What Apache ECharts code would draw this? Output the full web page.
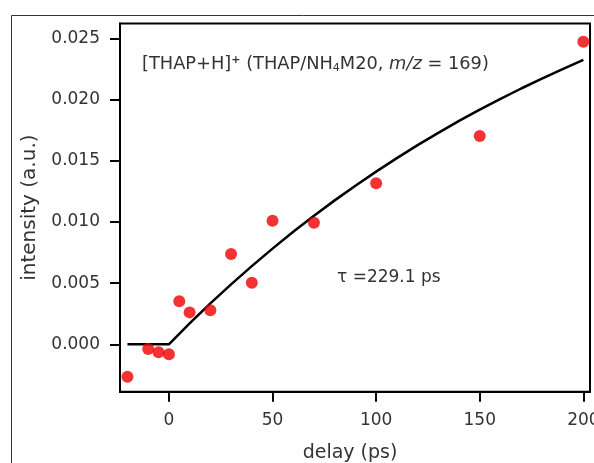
<!DOCTYPE html>
<html>
<head>
<meta charset="utf-8">
<script src="https://cdn.jsdelivr.net/npm/echarts@6/dist/echarts.min.js"></script>
<style>
html,body{margin:0;padding:0;background:#fff;}
#main{width:594px;height:463px;}
</style>
</head>
<body>
<div id="main"></div>
<script>
// measured data (delay in ps, intensity in a.u.)
var delays = [-20, -10, -5, 0, 5, 10, 20, 30, 40, 50, 70, 100, 150, 200];
var intensities = [-0.00265, -0.00038, -0.00065, -0.00082, 0.00351, 0.00261, 0.00278, 0.00738, 0.00503, 0.0101, 0.00994, 0.01315, 0.01702, 0.02472];
// fitted curve
var fitDelays = [-20, 0, 10, 20, 30, 40, 50, 60, 70, 80, 90, 100, 110, 120, 130, 140, 150, 160, 170, 180, 190, 200];
var fitValues = [0, 0, 0.00171, 0.00334, 0.00490, 0.00639, 0.00782, 0.00919, 0.01051, 0.01176, 0.01296, 0.01411, 0.01521, 0.01627, 0.01728, 0.01825, 0.01917, 0.02005, 0.02090, 0.02171, 0.02249, 0.02323];
// tick labels
var xTicks = [0, 50, 100, 150, 200];
var yTicks = [0, 0.005, 0.010, 0.015, 0.020, 0.025];

var FONT = 'DejaVu Sans';
var TXT = '#333';

var scatterData = delays.map(function (d, i) { return [d, intensities[i]]; });
var fitData = fitDelays.map(function (d, i) { return [d, fitValues[i]]; });

var chart = echarts.init(document.getElementById('main'), null, {renderer: 'canvas'});
chart.setOption({
  backgroundColor: '#fff',
  animation: false,
  textStyle: {fontFamily: FONT},
  title: {
    left: 137, top: 50,
    text: '{a|[THAP+H]}{sup|+}{a| (THAP/NH}{sub|4}{a|M20, }{i|m/z}{a| = 169)}',
    textStyle: {
      fontFamily: FONT, fontWeight: 'normal',
      rich: {
        a: {fontFamily: FONT, fontSize: 17.8, color: TXT, fontWeight: 'normal'},
        sup: {fontFamily: FONT, fontSize: 11, color: TXT, fontWeight: 'bold', verticalAlign: 'top', padding: [0, 0, 8, 0]},
        sub: {fontFamily: FONT, fontSize: 11, color: TXT, fontWeight: 'normal', verticalAlign: 'bottom', padding: [8, 0, 0, 0]},
        i: {fontFamily: FONT, fontSize: 17.8, color: TXT, fontWeight: 'normal', fontStyle: 'italic'}
      }
    }
  },
  grid: {
    left: 120, right: 4, top: 23.5, bottom: 71.3,
    show: true, borderColor: '#000', borderWidth: 2, backgroundColor: 'transparent',
    containLabel: false, outerBoundsMode: 'none'
  },
  xAxis: {
    type: 'value', min: -23.6, max: 203.2,
    name: 'delay (ps)', nameLocation: 'middle', nameGap: 52,
    nameTextStyle: {fontFamily: FONT, fontSize: 19, color: TXT, padding: [0, 10, 0, 0]},
    axisLine: {show: true, onZero: false, lineStyle: {color: '#000', width: 2}},
    axisTick: {show: true, inside: false, length: 10, lineStyle: {color: '#000', width: 2}, customValues: xTicks},
    axisLabel: {show: true, margin: 20, fontFamily: FONT, fontSize: 17, color: TXT, customValues: xTicks},
    splitLine: {show: false}
  },
  yAxis: {
    type: 'value', min: -0.00387, max: 0.02621,
    name: 'intensity (a.u.)', nameLocation: 'middle', nameGap: 80, nameRotate: 90,
    nameTextStyle: {fontFamily: FONT, fontSize: 20, color: TXT, padding: [0, 0, 0, 0]},
    axisLine: {show: true, onZero: false, lineStyle: {color: '#000', width: 2}},
    axisTick: {show: true, inside: false, length: 10, lineStyle: {color: '#000', width: 2}, customValues: yTicks},
    axisLabel: {show: true, margin: 20, fontFamily: FONT, fontSize: 17, color: TXT, customValues: yTicks,
      formatter: function (v) { return v.toFixed(3); }},
    splitLine: {show: false}
  },
  graphic: [
    {type: 'rect', left: 9, top: 13, silent: true, z: -10,
      shape: {x: 0, y: 0, width: 700, height: 700},
      style: {fill: 'none', stroke: '#333', lineWidth: 1}},
    {type: 'text', left: 337, top: 269, z: 10,
      style: {text: 'τ =229.1 ps', font: '17px "DejaVu Sans"', fill: TXT}}
  ],
  series: [
    {
      type: 'line', data: fitData, symbol: 'none', smooth: false,
      lineStyle: {color: '#000', width: 2.5}, z: 2
    },
    {
      type: 'scatter', data: scatterData, symbol: 'circle', symbolSize: 12,
      itemStyle: {color: '#f00000'}, z: 3
    }
  ]
});
</script>
</body>
</html>
